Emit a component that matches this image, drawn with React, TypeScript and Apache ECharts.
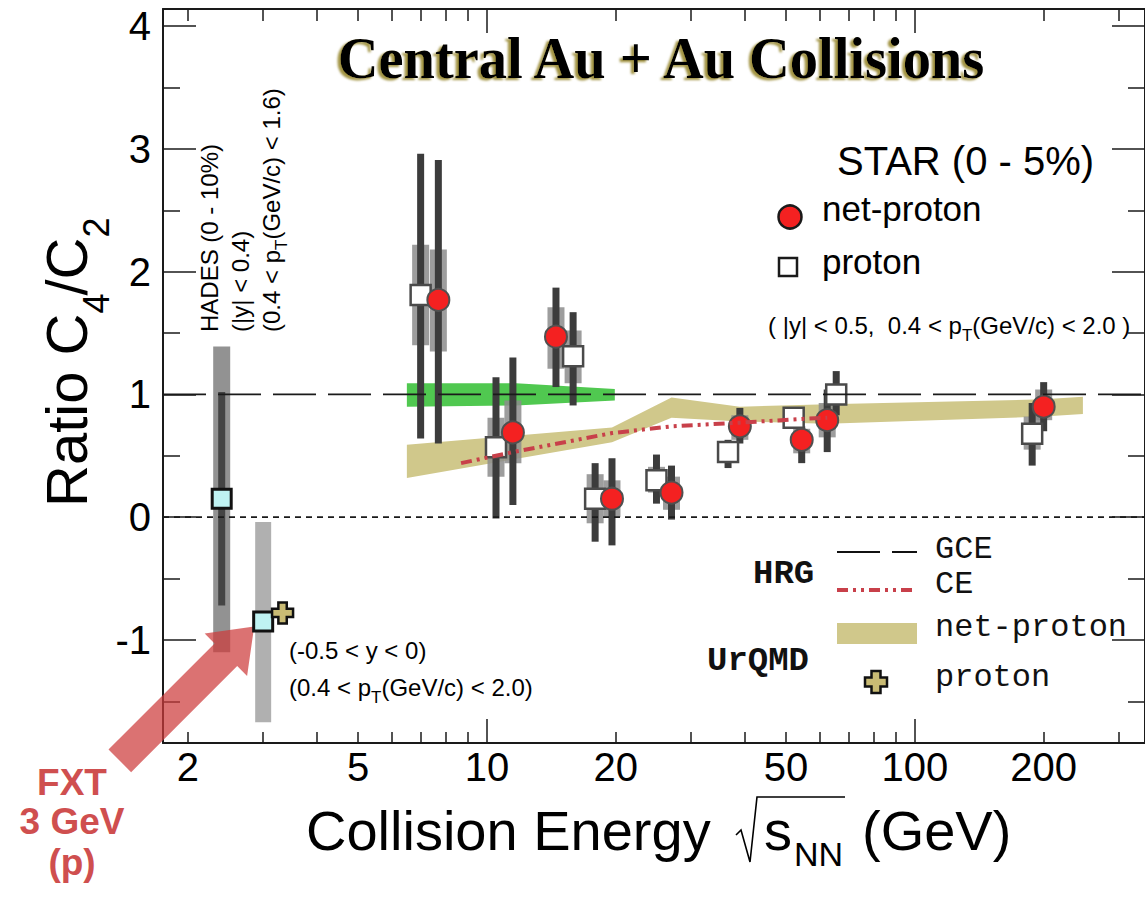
import React, { useEffect, useRef } from 'react';
import * as echarts from 'echarts';

const SANS = "'Liberation Sans', Arial, Helvetica, sans-serif";
const MONO = "'Liberation Mono', 'Courier New', monospace";
const SERIF = "'Liberation Serif', 'Times New Roman', serif";

// ---------- axes ----------
const xMinE = 1.75;
const xMaxE = 345;
const yMin = -1.84;
const yMax = 4.14;
const xMinorTicks = [2, 3, 4, 5, 6, 7, 8, 9, 20, 30, 40, 50, 60, 70, 80, 90, 200, 300];
const xMajorTicks = [10, 100];
const xTickLabels = [2, 5, 10, 20, 50, 100, 200];
const yMajorTicks = [-1, 0, 1, 2, 3, 4];
const yMinorTicks = [-1.5, -0.5, 0.5, 1.5, 2.5, 3.5];

// ---------- STAR net-proton (0-5%) ----------
const netProtonE = [7.7, 11.5, 14.5, 19.6, 27, 39, 54.4, 62.4, 200];
const netProtonVal = [1.77, 0.69, 1.47, 0.15, 0.2, 0.74, 0.63, 0.79, 0.9];
const netProtonStatLo = [0.6, 0.1, 1.06, -0.23, -0.02, 0.6, 0.44, 0.53, 0.7];
const netProtonStatHi = [2.91, 1.3, 1.87, 0.48, 0.42, 0.89, 0.74, 1.04, 1.1];
const netProtonSysLo = [1.35, 0.44, 1.21, 0.0, 0.06, 0.63, 0.52, 0.65, 0.79];
const netProtonSysHi = [2.18, 0.95, 1.71, 0.3, 0.33, 0.83, 0.72, 0.93, 1.04];

// ---------- STAR proton (plotted slightly shifted in energy) ----------
const protonE = [7.0, 10.5, 15.9, 17.9, 24.9, 36.6, 52.1, 65.5, 188];
const protonVal = [1.81, 0.57, 1.31, 0.15, 0.3, 0.53, 0.81, 1.0, 0.68];
const protonStatLo = [0.64, -0.01, 0.91, -0.2, 0.11, 0.4, 0.74, 0.83, 0.42];
const protonStatHi = [2.96, 1.14, 1.67, 0.44, 0.51, 0.63, 0.87, 1.19, 0.93];
const protonSysLo = [1.4, 0.33, 1.09, -0.05, 0.2, 0.45, 0.76, 0.92, 0.55];
const protonSysHi = [2.22, 0.81, 1.52, 0.35, 0.41, 0.6, 0.86, 1.08, 0.82];

// ---------- HADES (0-10%) proton ----------
const hadesE = [2.4];
const hadesVal = [0.15];
const hadesStatLo = [-0.72];
const hadesStatHi = [1.02];
const hadesSysLo = [-1.1];
const hadesSysHi = [1.39];

// ---------- STAR FXT 3 GeV proton ----------
const fxtE = [3.0];
const fxtVal = [-0.85];
const fxtStatLo = [-0.93];
const fxtStatHi = [-0.77];
const fxtSysLo = [-1.67];
const fxtSysHi = [-0.04];

// ---------- UrQMD ----------
const urqmdProtonE = [3.33];
const urqmdProtonVal = [-0.78];
const urqmdBandE = [6.5, 19.6, 27, 39, 62.4, 200, 247];
const urqmdBandLo = [0.32, 0.61, 0.81, 0.78, 0.76, 0.82, 0.84];
const urqmdBandHi = [0.59, 0.73, 0.975, 0.9, 0.92, 0.96, 0.98];

// ---------- HRG ----------
const gceLevel = 1;
const zeroLevel = 0;
const ceE = [8.7, 11.5, 19.6, 27, 39, 54.4, 62.4];
const ceVal = [0.44, 0.53, 0.685, 0.74, 0.77, 0.8, 0.81];

// ---------- green model band ----------
const greenE = [6.5, 11.7, 19.9];
const greenLo = [0.9, 0.91, 0.95];
const greenHi = [1.09, 1.09, 1.045];

const L = (e: number) => Math.log10(e);

let ctx2d: CanvasRenderingContext2D | null = null;
function tw(text: string, font: string): number {
  if (!ctx2d) ctx2d = document.createElement('canvas').getContext('2d');
  if (!ctx2d) return text.length * 10;
  ctx2d.font = font;
  return ctx2d.measureText(text).width;
}

type Seg = { t: string; size: number; dy?: number; dx?: number; weight?: string };
function run(segs: Seg[], x0: number, y0: number, family: string, fill: string): any[] {
  let x = x0;
  const els: any[] = [];
  for (const s of segs) {
    const font = `${s.weight || 'normal'} ${s.size}px ${family}`;
    x += s.dx || 0;
    els.push({
      type: 'text',
      x,
      y: y0 + (s.dy || 0),
      silent: true,
      style: { text: s.t, font, fill, textAlign: 'left', textVerticalAlign: 'middle' },
    });
    x += tw(s.t, font);
  }
  return els;
}

function errBars(xs: number[], lo: number[], hi: number[], width: number, color: string): any {
  return {
    type: 'custom',
    silent: true,
    data: xs.map((e, i) => [L(e), lo[i], hi[i]]),
    encode: { x: 0, y: [1, 2] },
    renderItem: (_p: any, api: any) => {
      const x = api.value(0);
      const a = api.coord([x, api.value(2)]);
      const b = api.coord([x, api.value(1)]);
      return {
        type: 'rect',
        shape: { x: a[0] - width / 2, y: a[1], width, height: b[1] - a[1] },
        style: { fill: color },
      };
    },
  };
}

function band(xs: number[], lo: number[], hi: number[], color: string): any {
  return {
    type: 'custom',
    silent: true,
    data: xs.map((e, i) => [L(e), lo[i], hi[i]]),
    encode: { x: 0, y: [1, 2] },
    renderItem: (p: any, api: any) => {
      if (p.dataIndex !== 0) return null;
      const top = xs.map((e, i) => api.coord([L(e), hi[i]]));
      const bot = xs.map((e, i) => api.coord([L(e), lo[i]])).reverse();
      return { type: 'polygon', shape: { points: top.concat(bot) }, style: { fill: color } };
    },
  };
}

const lineStyleAxis = { color: '#1a1a1a', width: 2 };
const tickStyle = { color: '#1a1a1a', width: 1.5 };

function xAx(pos: string, ticks: number[], len: number, showLine: boolean, labels?: number[]): any {
  return {
    type: 'value',
    position: pos,
    min: L(xMinE),
    max: L(xMaxE),
    axisLine: { show: showLine, onZero: false, lineStyle: lineStyleAxis },
    axisTick: { show: true, inside: true, length: len, customValues: ticks.map(L), lineStyle: tickStyle },
    axisLabel: labels
      ? {
          show: true,
          customValues: labels.map(L),
          formatter: (v: number) => String(Math.round(Math.pow(10, v))),
          fontSize: 40,
          fontFamily: SANS,
          color: '#000',
          margin: 4,
        }
      : { show: false },
    splitLine: { show: false },
  };
}

function yAx(pos: string, ticks: number[], len: number, showLine: boolean, labels?: number[]): any {
  return {
    type: 'value',
    position: pos,
    min: yMin,
    max: yMax,
    axisLine: { show: showLine, onZero: false, lineStyle: lineStyleAxis },
    axisTick: { show: true, inside: true, length: len, customValues: ticks, lineStyle: tickStyle },
    axisLabel: labels
      ? { show: true, customValues: labels, fontSize: 40, fontFamily: SANS, color: '#000', margin: 12 }
      : { show: false },
    splitLine: { show: false },
  };
}

function crossPoints(cx: number, cy: number, s: number, a: number): number[][] {
  return [
    [cx - a, cy - s], [cx + a, cy - s], [cx + a, cy - a], [cx + s, cy - a],
    [cx + s, cy + a], [cx + a, cy + a], [cx + a, cy + s], [cx - a, cy + s],
    [cx - a, cy + a], [cx - s, cy + a], [cx - s, cy - a], [cx - a, cy - a],
  ];
}

function buildOption(): any {
  const SUBDY = 10;
  const graphics: any[] = [];

  // Title
  graphics.push({
    type: 'text',
    x: 661,
    y: 58,
    scaleX: 0.94,
    silent: true,
    style: {
      text: 'Central Au + Au Collisions',
      font: `bold 60px ${SERIF}`,
      fill: '#000',
      textAlign: 'center',
      textVerticalAlign: 'middle',
      textShadowColor: '#a39445',
      textShadowOffsetX: -3,
      textShadowOffsetY: 2,
      textShadowBlur: 2,
    },
  });

  // STAR legend
  graphics.push(...run([{ t: 'STAR (0 - 5%)', size: 40 }], 837, 161, SANS, '#000'));
  graphics.push({
    type: 'circle', silent: true,
    shape: { cx: 790, cy: 217, r: 11.5 },
    style: { fill: '#f42121', stroke: '#1a1a1a', lineWidth: 2.5 },
  });
  graphics.push(...run([{ t: 'net-proton', size: 35 }], 822, 208, SANS, '#000'));
  graphics.push({
    type: 'rect', silent: true,
    shape: { x: 779, y: 258, width: 18, height: 18 },
    style: { fill: '#fff', stroke: '#1a1a1a', lineWidth: 2.5 },
  });
  graphics.push(...run([{ t: 'proton', size: 35 }], 822, 261, SANS, '#000'));
  graphics.push(
    ...run(
      [
        { t: '( |y| < 0.5,  0.4 < p', size: 24 },
        { t: 'T', size: 17, dy: SUBDY },
        { t: '(GeV/c) < 2.0 )', size: 24 },
      ],
      768, 325, SANS, '#000'
    )
  );

  // HRG / UrQMD legend
  graphics.push(...run([{ t: 'HRG', size: 34, weight: 'bold' }], 753, 574, MONO, '#111'));
  graphics.push({
    type: 'line', silent: true,
    shape: { x1: 837, y1: 552, x2: 917, y2: 552 },
    style: { stroke: '#111', lineWidth: 2, lineDash: [43, 12] },
  });
  graphics.push(...run([{ t: 'GCE', size: 32 }], 935, 549, MONO, '#111'));
  graphics.push({
    type: 'line', silent: true,
    shape: { x1: 837, y1: 590, x2: 917, y2: 590 },
    style: { stroke: '#c8404a', lineWidth: 4, lineDash: [11, 5, 3, 5, 3, 5] },
  });
  graphics.push(...run([{ t: 'CE', size: 32 }], 935, 584, MONO, '#111'));
  graphics.push({
    type: 'rect', silent: true,
    shape: { x: 837, y: 623, width: 80, height: 21 },
    style: { fill: '#d0c88b' },
  });
  graphics.push(...run([{ t: 'net-proton', size: 32 }], 935, 627, MONO, '#111'));
  graphics.push(...run([{ t: 'UrQMD', size: 34, weight: 'bold' }], 707, 661, MONO, '#111'));
  graphics.push({
    type: 'polygon', silent: true,
    shape: { points: crossPoints(876, 682, 11, 4.5) },
    style: { fill: '#c9bb74', stroke: '#111', lineWidth: 2.5 },
  });
  graphics.push(...run([{ t: 'proton', size: 32 }], 935, 677, MONO, '#111'));

  // HADES rotated notes
  const hadesLines: { segs: Seg[]; cx: number }[] = [
    { segs: [{ t: 'HADES (0 - 10%)', size: 24 }], cx: 209 },
    { segs: [{ t: '(|y| < 0.4)', size: 24 }], cx: 240 },
    {
      segs: [
        { t: '(0.4 < p', size: 24 },
        { t: 'T', size: 17, dy: SUBDY },
        { t: '(GeV/c) < 1.6)', size: 24 },
      ],
      cx: 271,
    },
  ];
  for (const hl of hadesLines) {
    graphics.push({
      type: 'group',
      x: hl.cx,
      y: 332,
      rotation: Math.PI / 2,
      children: run(hl.segs, 0, 0, SANS, '#000'),
    });
  }

  // FXT notes
  graphics.push(...run([{ t: '(-0.5 < y < 0)', size: 24 }], 289, 650, SANS, '#000'));
  graphics.push(
    ...run(
      [
        { t: '(0.4 < p', size: 24 },
        { t: 'T', size: 17, dy: SUBDY },
        { t: '(GeV/c) < 2.0)', size: 24 },
      ],
      289, 687, SANS, '#000'
    )
  );

  // FXT red label
  const red = '#cf4f4f';
  for (const [t, y] of [['FXT', 782], ['3 GeV', 821], ['(p)', 862]] as [string, number][]) {
    graphics.push({
      type: 'text', x: 72, y, silent: true,
      style: { text: t, font: `bold 37px ${SANS}`, fill: red, textAlign: 'center', textVerticalAlign: 'middle' },
    });
  }

  // Y axis title (rotated)
  graphics.push({
    type: 'group',
    x: 66,
    y: 507,
    rotation: Math.PI / 2,
    children: run(
      [
        { t: 'Ratio C', size: 58 },
        { t: '4', size: 36, dy: 30 },
        { t: '/C', size: 58, dx: -2 },
        { t: '2', size: 36, dy: 30 },
      ],
      0, 0, SANS, '#000'
    ),
  });

  // X axis title
  graphics.push(...run([{ t: 'Collision Energy', size: 56 }], 306, 830, SANS, '#000'));
  graphics.push({
    type: 'polyline', silent: true,
    shape: { points: [[736, 835], [741, 830], [750, 862], [757, 797], [845, 797]] },
    style: { stroke: '#000', lineWidth: 1.6, fill: 'none' },
  });
  graphics.push(...run([{ t: 's', size: 56 }], 764, 830, SANS, '#000'));
  graphics.push(...run([{ t: 'NN', size: 34, dy: 24 }], 794, 830, SANS, '#000'));
  graphics.push(...run([{ t: '(GeV)', size: 56 }], 862, 830, SANS, '#000'));

  const xLo = L(xMinE);
  const xHi = L(xMaxE);

  const series: any[] = [
    {
      type: 'line', silent: true, symbol: 'none',
      data: [[xLo, zeroLevel], [xHi, zeroLevel]],
      lineStyle: { color: '#1a1a1a', width: 1.6, type: [6, 5] },
    },
    {
      type: 'line', silent: true, symbol: 'none',
      data: [[xLo, gceLevel], [xHi, gceLevel]],
      lineStyle: { color: '#1a1a1a', width: 1.8, type: [43, 12] },
    },
    band(greenE, greenLo, greenHi, '#50c850'),
    band(urqmdBandE, urqmdBandLo, urqmdBandHi, '#d0c88b'),
    {
      type: 'line', silent: true, symbol: 'none',
      data: ceE.map((e, i) => [L(e), ceVal[i]]),
      lineStyle: { color: '#c8404a', width: 4, type: [11, 5, 3, 5, 3, 5] },
    },
    // systematic errors
    errBars(hadesE, hadesSysLo, hadesSysHi, 17, '#929292'),
    errBars(fxtE, fxtSysLo, fxtSysHi, 16, 'rgba(150,150,150,0.75)'),
    errBars(protonE, protonSysLo, protonSysHi, 17, 'rgba(140,140,140,0.85)'),
    errBars(netProtonE, netProtonSysLo, netProtonSysHi, 17, 'rgba(140,140,140,0.85)'),
    // statistical errors
    errBars(hadesE, hadesStatLo, hadesStatHi, 7, '#444'),
    errBars(fxtE, fxtStatLo, fxtStatHi, 7, '#444'),
    errBars(protonE, protonStatLo, protonStatHi, 7, '#3c3c3c'),
    errBars(netProtonE, netProtonStatLo, netProtonStatHi, 7, '#3c3c3c'),
    // FXT arrow, anchored on the 3 GeV point
    {
      type: 'custom', silent: true,
      data: [[L(fxtE[0]), fxtVal[0]]],
      encode: { x: 0, y: 1 },
      renderItem: (_p: any, api: any) => {
        const c = api.coord([api.value(0), api.value(1)]);
        const T = [c[0] - 9, c[1] + 5];
        const u = [Math.SQRT1_2, -Math.SQRT1_2];
        const n = [Math.SQRT1_2, Math.SQRT1_2];
        const len = 190, hl = 40, hw = 30, sw = 16;
        const B = [T[0] - u[0] * hl, T[1] - u[1] * hl];
        const C = [T[0] - u[0] * len, T[1] - u[1] * len];
        const P = (o: number[], k: number) => [o[0] + n[0] * k, o[1] + n[1] * k];
        return {
          type: 'polygon',
          shape: { points: [T, P(B, hw), P(B, sw), P(C, sw), P(C, -sw), P(B, -sw), P(B, -hw)] },
          style: { fill: 'rgba(205,60,60,0.72)' },
        };
      },
    },
    // markers
    {
      type: 'scatter', silent: true,
      data: protonE.map((e, i) => [L(e), protonVal[i]]),
      symbol: 'rect', symbolSize: 20,
      itemStyle: { color: '#ffffff', borderColor: '#4a4a4a', borderWidth: 2.5, opacity: 1 },
    },
    {
      type: 'scatter', silent: true,
      data: netProtonE.map((e, i) => [L(e), netProtonVal[i]]),
      symbol: 'circle', symbolSize: 22,
      itemStyle: { color: '#f42121', borderColor: '#505050', borderWidth: 2, opacity: 1 },
    },
    {
      type: 'scatter', silent: true,
      data: hadesE.map((e, i) => [L(e), hadesVal[i]]),
      symbol: 'rect', symbolSize: 19,
      itemStyle: { color: '#bff2f2', borderColor: '#111', borderWidth: 3, opacity: 1 },
    },
    {
      type: 'scatter', silent: true,
      data: fxtE.map((e, i) => [L(e), fxtVal[i]]),
      symbol: 'rect', symbolSize: 19,
      itemStyle: { color: '#bff2f2', borderColor: '#111', borderWidth: 3, opacity: 1 },
    },
    {
      type: 'scatter', silent: true,
      data: urqmdProtonE.map((e, i) => [L(e), urqmdProtonVal[i]]),
      symbol: 'path://M3,0H7V3H10V7H7V10H3V7H0V3H3Z', symbolSize: 21,
      itemStyle: { color: '#c9bb74', borderColor: '#111', borderWidth: 2.5, opacity: 1 },
    },
  ];

  return {
    animation: false,
    backgroundColor: '#ffffff',
    grid: { left: 163, top: 9, right: -5, bottom: 160, containLabel: false },
    xAxis: [
      xAx('bottom', xMinorTicks, 11, true, xTickLabels),
      xAx('bottom', xMajorTicks, 24, false),
      xAx('top', xMinorTicks, 12, true),
      xAx('top', xMajorTicks, 24, false),
    ],
    yAxis: [
      yAx('left', yMajorTicks, 33, true, yMajorTicks),
      yAx('left', yMinorTicks, 17, false),
      yAx('right', yMajorTicks, 33, true),
      yAx('right', yMinorTicks, 17, false),
    ],
    series,
    graphic: graphics,
  };
}

export default function App() {
  const ref = useRef<HTMLDivElement>(null);
  useEffect(() => {
    if (!ref.current) return;
    const chart = echarts.init(ref.current, null, { renderer: 'svg' });
    chart.setOption(buildOption());
    return () => {
      chart.dispose();
    };
  }, []);
  return (
    <div
      ref={ref}
      style={{ position: 'fixed', left: 0, top: 0, width: 1145, height: 903, background: '#fff' }}
    />
  );
}
